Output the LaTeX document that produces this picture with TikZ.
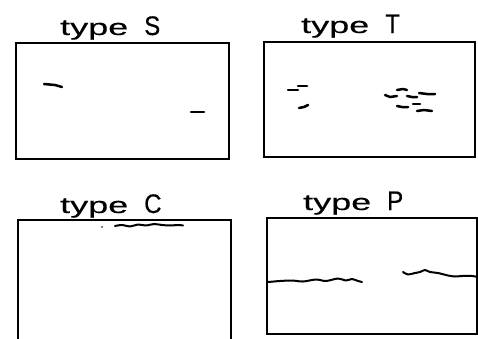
\documentclass[tikz,border=0pt]{standalone}
\usepackage{fontspec}
\setmainfont{Liberation Sans}
\newcommand{\typelbl}[1]{\fontsize{24}{24}\selectfont\addfontfeature{FakeBold=0.3}\scalebox{1.5}[0.95]{type}\hspace{16pt}\scalebox{1.0}[1.12]{#1}}
\tikzset{
  frame/.style={line width=2.4pt, line join=miter},
  crack/.style={line width=2pt, line cap=round, line join=round},
  flaw/.style={line width=2.5pt, line cap=round, line join=round},
  lbl/.style={inner sep=0pt, anchor=base west}
}
\begin{document}
\begin{tikzpicture}[x=1pt,y=-1pt]
\useasboundingbox (0,0) rectangle (478,338);
\clip (0,0) rectangle (478,338);
% labels
\node[lbl] (labS) at (60,35) {\typelbl{S}};
\node[lbl] (labT) at (301,33) {\typelbl{T}};
\node[lbl] (labC) at (60,213) {\typelbl{C}};
\node[lbl] (labP) at (303,210) {\typelbl{P}};
% frames
\draw[frame] (16,43) rectangle (229,159);
\draw[frame] (264,42) rectangle (475,157);
\draw[frame] (18,340) -- (18,220) -- (231,220) -- (231,340);
\draw[frame] (267,218) rectangle (477,334);
% type S flaws
\draw[flaw] (44,84) -- (55,85) -- (62,87);
\draw[flaw] (191,112) -- (204,112);
% type T flaws
\draw[flaw] (288,90) -- (298,90);
\draw[flaw] (298,86) -- (307,86);
\draw[flaw] (299,108) -- (304,107) -- (308,105);
\draw[flaw] (385,95) -- (390,97) -- (397,96);
\draw[flaw] (397,90) -- (403,89) -- (407,90);
\draw[flaw] (407,96) -- (412,97) -- (417,97);
\draw[flaw] (419,93) -- (427,94) -- (435,94);
\draw[flaw] (397,106) -- (402,107) -- (408,107);
\draw[flaw] (413,104) -- (420,104);
\draw[flaw] (417,111) -- (424,110) -- (432,111);
% type C crack
\draw[crack] plot[smooth] coordinates {(115,226) (122,225) (130,226.5) (138,224.5) (146,225.5) (154,224) (162,225) (170,225.5) (178,225) (183,225.5)};
\fill (102,227) circle (0.9);
% type P cracks
\draw[crack] plot[smooth] coordinates {(268,282) (280,281) (292,280.5) (303,281.5) (316,279.5) (326,281) (338,278.5) (346,280.5) (352,279) (358,281) (362,282)};
\draw[crack] plot[smooth] coordinates {(403,272) (408,274.5) (415,273) (420,272) (425,270) (430,272) (438,273) (448,275.5) (455,276.5) (462,276) (472,276) (478,277)};
\end{tikzpicture}
\end{document}
